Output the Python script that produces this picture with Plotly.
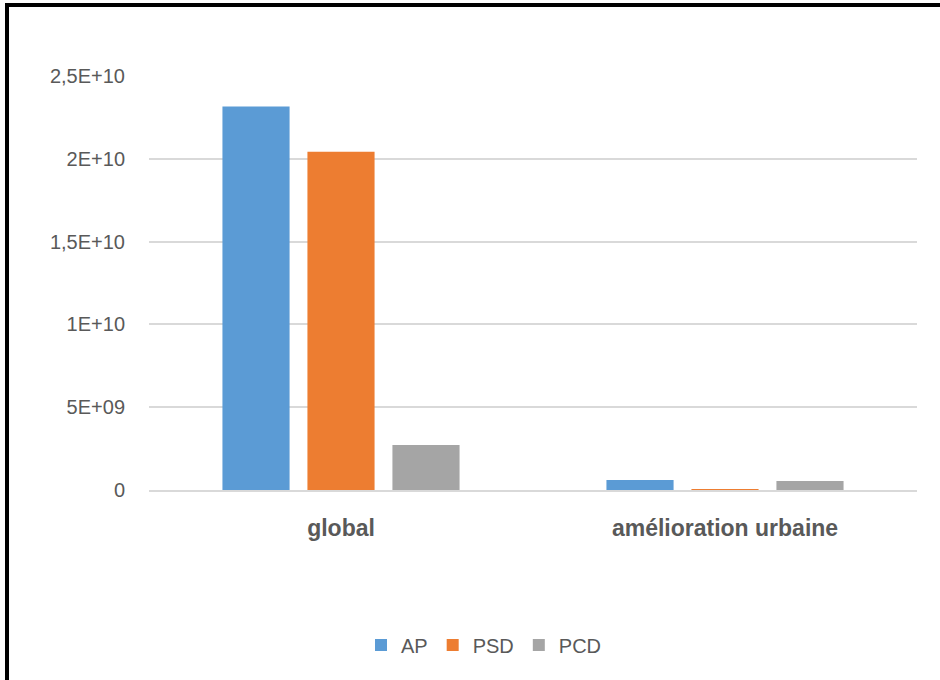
import plotly.graph_objects as go

# Data
categories = ["global", "amélioration urbaine"]
series_names = ["AP", "PSD", "PCD"]
ap_values = [2.316e10, 6.0e8]
psd_values = [2.042e10, 4.0e7]
pcd_values = [2.72e9, 5.4e8]
colors = ["#5B9BD5", "#ED7D31", "#A5A5A5"]

tick_values = [0, 5e9, 1e10, 1.5e10, 2e10, 2.5e10]
tick_labels = ["0", "5E+09", "1E+10", "1,5E+10", "2E+10", "2,5E+10"]

W, H = 940, 680
ML, MR, MT, MB = 149, 23, 76, 190
plot_w = W - ML - MR
plot_h = H - MT - MB

text_color = "#595959"
font_family = "Liberation Sans, Arial, sans-serif"

fig = go.Figure()
for name, vals, col in zip(series_names, [ap_values, psd_values, pcd_values], colors):
    fig.add_trace(go.Bar(x=categories, y=vals, name=name, marker=dict(color=col, line=dict(width=0))))


def px_x(p):
    return (p - ML) / plot_w


def px_y(p):
    return (H - MB - p) / plot_h


fig.update_layout(
    width=W,
    height=H,
    margin=dict(l=ML, r=MR, t=MT, b=MB, pad=0),
    paper_bgcolor="white",
    plot_bgcolor="white",
    barmode="group",
    bargap=0.336,
    bargroupgap=0.21,
    font=dict(family=font_family, color=text_color, size=20),
    showlegend=True,
    legend=dict(
        orientation="h",
        x=px_x(484),
        xanchor="center",
        y=px_y(645),
        yanchor="middle",
        font=dict(size=20, color=text_color),
        bgcolor="rgba(0,0,0,0)",
    ),
    xaxis=dict(
        showline=True,
        linecolor="#D9D9D9",
        linewidth=1.5,
        showgrid=False,
        ticks="",
        tickfont=dict(size=23, color=text_color, weight="bold"),
        ticklabelstandoff=17,
        fixedrange=True,
    ),
    yaxis=dict(
        range=[0, 2.5e10],
        tickvals=tick_values,
        ticktext=tick_labels,
        showgrid=True,
        gridcolor="#D9D9D9",
        gridwidth=1.5,
        zeroline=False,
        showline=False,
        ticks="",
        tickfont=dict(size=20, color=text_color),
        ticklabelstandoff=23,
        fixedrange=True,
    ),
    shapes=[
        dict(
            type="rect",
            xref="paper",
            yref="paper",
            x0=px_x(7),
            x1=px_x(W + 40),
            y0=px_y(H + 40),
            y1=px_y(5),
            line=dict(color="black", width=4),
            fillcolor="rgba(0,0,0,0)",
            layer="above",
        )
    ],
)

fig.write_html("out.html", config={"displayModeBar": False})
